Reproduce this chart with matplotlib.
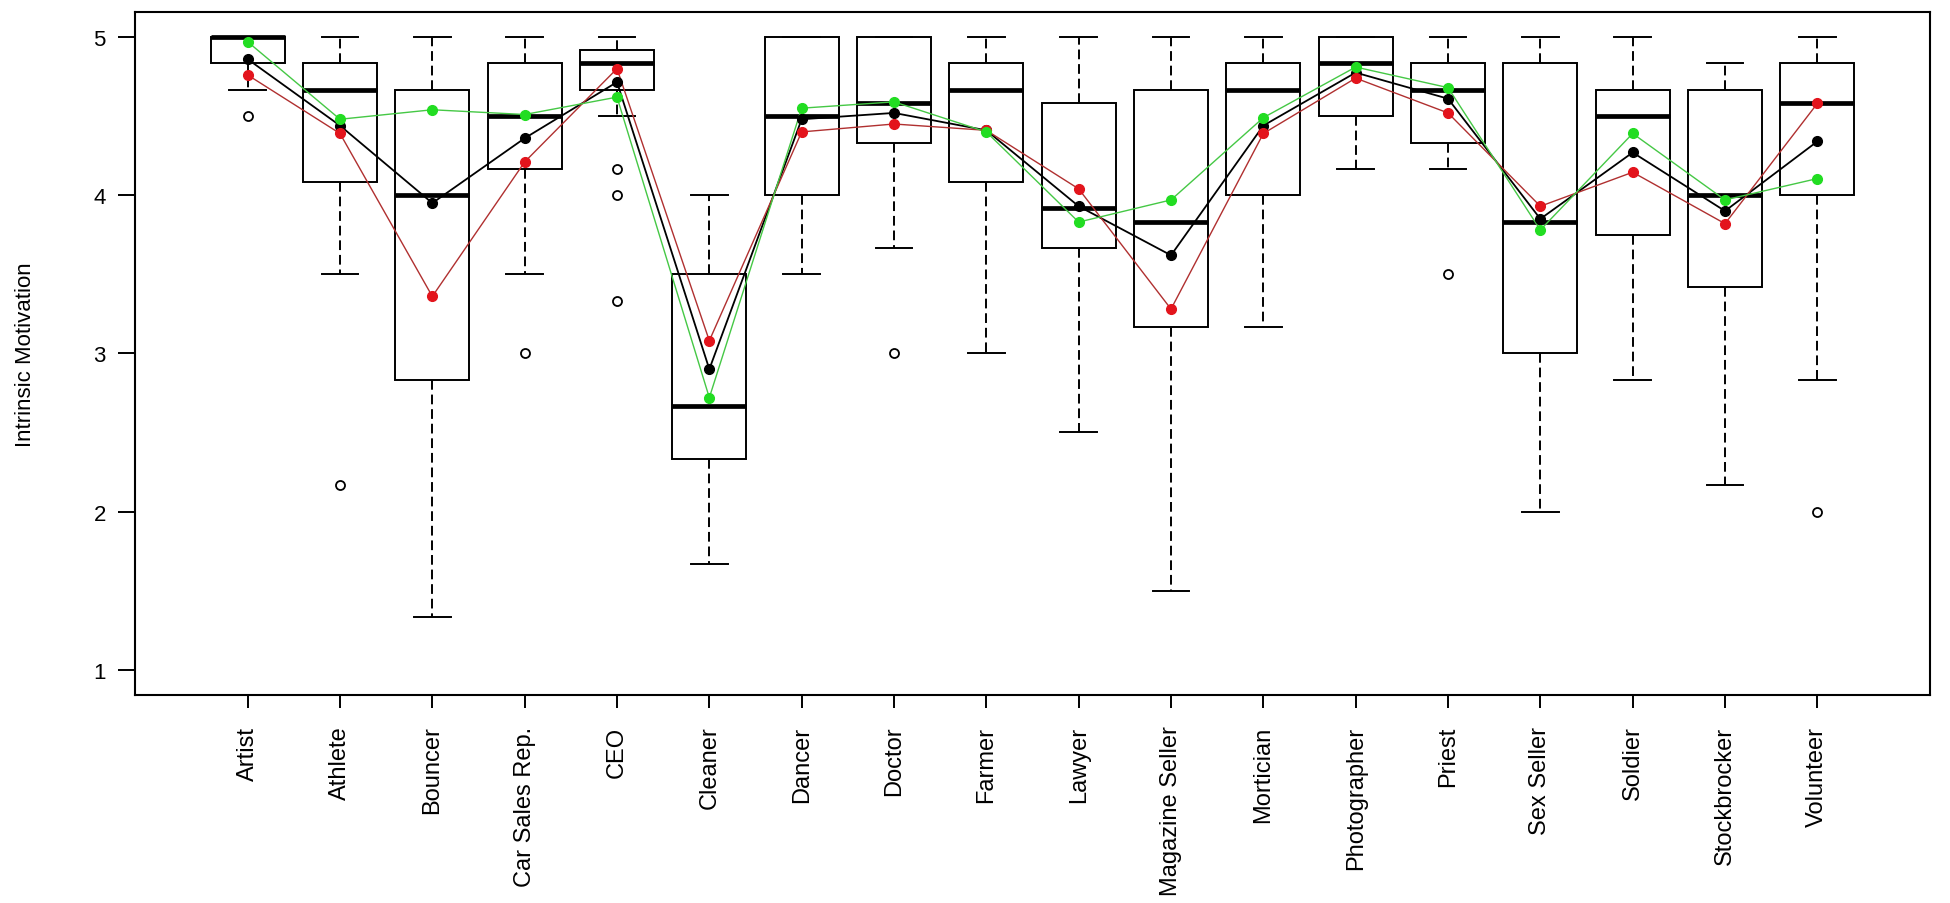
import matplotlib.pyplot as plt

plt.rcParams['font.family'] = ['Liberation Sans', 'DejaVu Sans']

# occupations on the x axis
jobs = ["Artist", "Athlete", "Bouncer", "Car Sales Rep.", "CEO", "Cleaner", "Dancer",
        "Doctor", "Farmer", "Lawyer", "Magazine Seller", "Mortician", "Photographer",
        "Priest", "Sex Seller", "Soldier", "Stockbrocker", "Volunteer"]

# box statistics
whis_hi = [5, 5, 5, 5, 5, 4.0, 5, 5, 5, 5, 5, 5, 5, 5, 5, 5, 4.833, 5]
q3 = [5, 4.833, 4.667, 4.833, 4.917, 3.5, 5, 5, 4.833, 4.583, 4.667, 4.833, 5, 4.833,
      4.833, 4.667, 4.667, 4.833]
med = [5, 4.667, 4.0, 4.5, 4.833, 2.667, 4.5, 4.583, 4.667, 3.917, 3.833, 4.667, 4.833,
       4.667, 3.833, 4.5, 4.0, 4.583]
q1 = [4.833, 4.083, 2.833, 4.167, 4.667, 2.333, 4.0, 4.333, 4.083, 3.667, 3.167, 4.0, 4.5,
      4.333, 3.0, 3.75, 3.417, 4.0]
whis_lo = [4.667, 3.5, 1.333, 3.5, 4.5, 1.667, 3.5, 3.667, 3.0, 2.5, 1.5, 3.167, 4.167,
           4.167, 2.0, 2.833, 2.167, 2.833]
outliers = [[4.5], [2.167], [], [3.0], [4.167, 4.0, 3.333], [], [], [3.0], [], [], [], [],
            [], [3.5], [], [], [], [2.0]]

# group means (black = all, red and green = subgroups)
mean_all = [4.86, 4.44, 3.95, 4.36, 4.715, 2.90, 4.48, 4.52, 4.41, 3.93, 3.62, 4.44,
            4.775, 4.61, 3.85, 4.27, 3.90, 4.34]
mean_red = [4.76, 4.39, 3.36, 4.21, 4.80, 3.08, 4.40, 4.45, 4.41, 4.04, 3.28, 4.39,
            4.74, 4.52, 3.93, 4.145, 3.82, 4.58]
mean_green = [4.97, 4.48, 4.54, 4.51, 4.62, 2.72, 4.55, 4.59, 4.40, 3.83, 3.97, 4.49,
              4.81, 4.68, 3.78, 4.39, 3.97, 4.105]

pos = list(range(1, len(jobs) + 1))

stats = []
for i, job in enumerate(jobs):
    stats.append(dict(label=job, whislo=whis_lo[i], q1=q1[i], med=med[i], q3=q3[i],
                      whishi=whis_hi[i], fliers=outliers[i]))

fig = plt.figure(figsize=(19.5, 9.04), dpi=100)
ax = fig.add_axes([135 / 1950, 1 - 696 / 904, 1795 / 1950, 683.3 / 904])

ax.bxp(stats, positions=pos, widths=0.8, capwidths=0.4, patch_artist=True,
       boxprops=dict(facecolor='white', edgecolor='black', linewidth=1.4),
       whiskerprops=dict(color='black', linestyle=(0, (5, 2.5)), linewidth=1.4),
       capprops=dict(color='black', linewidth=1.4),
       medianprops=dict(color='black', linewidth=3.4, solid_capstyle='butt'),
       flierprops=dict(marker='o', markerfacecolor='none', markeredgecolor='black',
                       markersize=6.5, markeredgewidth=1.3),
       zorder=2)

# mean lines on top of the boxes
ax.plot(pos, mean_all, color='black', lw=1.3, zorder=4)
ax.plot(pos, mean_all, 'o', color='black', ms=7, zorder=5)
ax.plot(pos, mean_red, color='#b03030', lw=1.0, zorder=4)
ax.plot(pos, mean_red, 'o', color='#e3141c', ms=7, zorder=5)
ax.plot(pos, mean_green, color='#45c845', lw=1.0, zorder=4)
ax.plot(pos, mean_green, 'o', color='#22dd22', ms=7, zorder=5)

ax.set_xlim(-0.22, 19.22)
ax.set_ylim(0.84, 5.16)
ax.set_yticks([1, 2, 3, 4, 5])
ax.set_xticks(pos)
ax.set_xticklabels(jobs, rotation=90, va='top', ha='center')

for s in ax.spines.values():
    s.set_linewidth(1.5)

ax.tick_params(axis='y', length=12, width=1.4, pad=9, labelsize=16)
ax.tick_params(axis='x', length=9, width=1.4, pad=13, labelsize=17)

ax.set_ylabel("Intrinsic Motivation", fontsize=16)
ax.yaxis.set_label_coords(-0.055, 0.5)

plt.savefig("out.png", dpi=100)
